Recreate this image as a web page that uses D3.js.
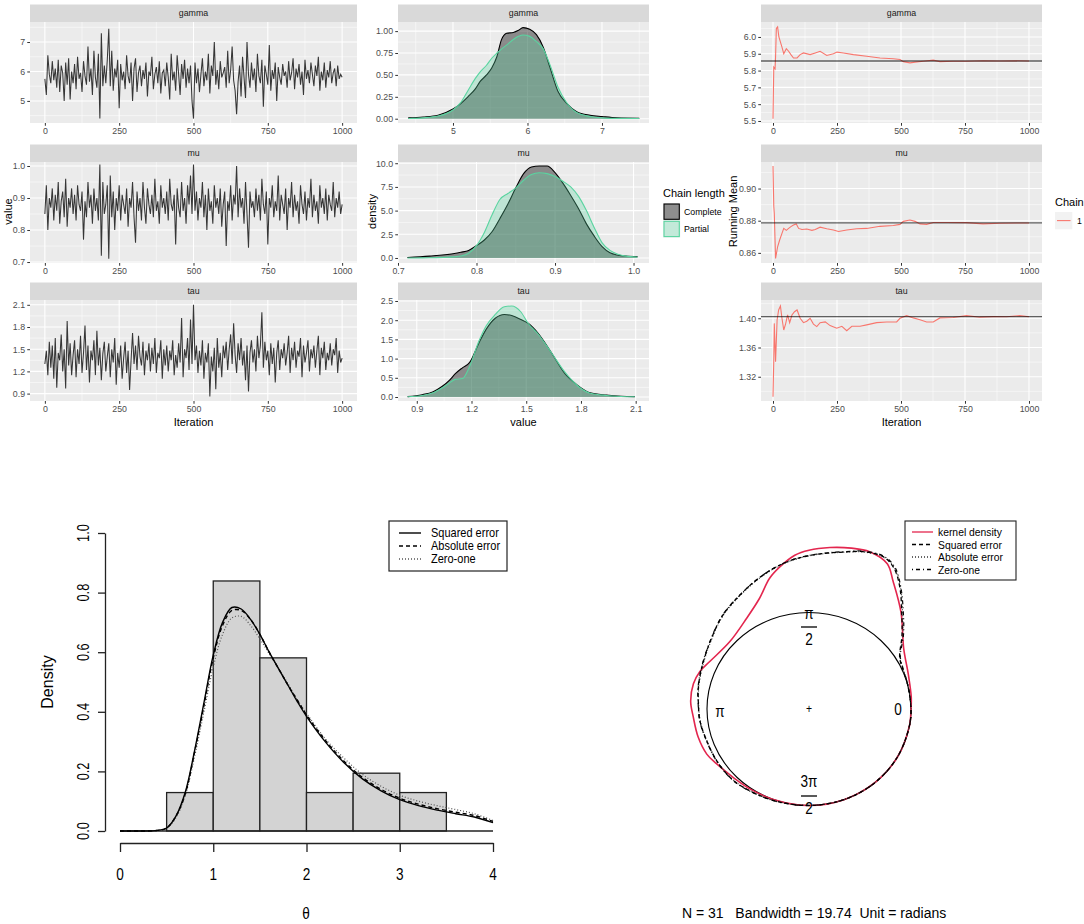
<!DOCTYPE html>
<html><head><meta charset="utf-8">
<script src="https://cdn.jsdelivr.net/npm/d3@7"></script>
<style>
body{margin:0;background:#fff}
text{font-family:"Liberation Sans",Arial,sans-serif}
</style>
</head><body>
<svg id="c" width="1084" height="924"></svg>
<script>
// ---------------- DATA ----------------
const params = ["gamma","mu","tau"];

// MCMC traces (every 5th iteration)
const traceGamma = [5.75,5.2,6.55,5.9,5.6,6.35,5.7,6.1,5.45,6.4,5.3,6.2,5.95,5.0,6.3,5.55,6.45,5.05,6.0,5.6,6.25,
5.4,6.5,5.75,5.95,5.3,6.35,5.85,5.55,6.85,5.65,6.1,5.2,6.7,5.8,5.45,6.6,4.4,7.3,5.5,6.2,
5.6,6.4,7.45,5.5,6.7,5.35,6.1,5.8,6.4,4.75,6.25,5.7,6.0,5.4,6.55,5.85,5.6,6.3,5.0,6.1,
6.45,5.3,5.95,6.2,5.5,6.05,5.75,6.3,5.15,6.0,5.85,6.5,5.4,5.9,6.15,5.6,6.35,5.25,5.95,6.05,
5.5,6.3,5.8,5.05,6.6,5.7,6.0,5.35,6.55,5.9,5.2,6.25,5.75,6.4,5.45,6.1,5.6,6.2,5.0,4.4,
6.3,5.6,6.1,5.3,5.9,6.45,5.5,6.0,5.7,6.6,5.25,6.2,5.85,7.0,5.55,6.05,5.4,6.35,5.8,5.95,
6.15,5.45,6.7,5.6,6.05,6.85,5.7,5.35,4.55,5.65,6.2,5.15,6.5,5.8,5.1,7.0,5.9,5.45,6.3,5.7,
6.1,5.3,6.6,5.85,5.6,6.4,4.8,6.2,5.9,5.55,6.9,5.35,6.05,5.75,6.3,5.0,6.15,5.8,5.55,6.25,
5.85,6.0,5.45,6.35,5.7,5.95,6.45,5.4,6.1,5.8,6.25,5.55,6.0,5.2,6.4,5.75,6.05,5.6,6.3,5.9,
5.5,6.2,5.85,6.5,5.35,6.0,5.7,6.3,5.45,6.05,5.8,6.35,5.6,5.95,6.1,5.5,6.2,5.75,5.9,5.8];
const traceMu = [0.85,0.94,0.80,0.90,0.87,0.93,0.83,0.91,0.86,0.95,0.82,0.89,0.92,0.84,0.96,0.81,0.90,0.87,0.93,0.85,0.91,
0.83,0.94,0.88,0.86,0.92,0.77,0.89,0.84,0.95,0.87,0.91,0.82,0.93,0.86,0.90,0.83,1.005,0.72,0.95,0.85,
0.88,0.94,0.71,0.97,0.84,0.92,0.80,0.90,0.86,0.94,0.83,0.91,0.88,0.85,0.93,0.81,0.90,0.87,0.95,0.84,
0.76,0.92,0.86,0.90,0.83,0.95,0.87,0.82,0.93,0.88,0.85,0.91,0.84,0.96,0.86,0.89,0.82,0.94,0.87,0.90,
0.85,0.92,0.83,0.96,0.88,0.86,0.91,0.755,0.93,0.87,0.84,0.95,0.86,0.90,0.82,0.94,0.88,0.97,0.85,1.005,
0.86,0.92,0.83,0.90,0.87,0.95,0.84,0.91,0.80,0.93,0.86,0.89,0.82,0.94,0.87,0.90,0.85,0.93,0.81,0.88,
0.92,0.75,0.89,0.86,0.94,0.83,0.91,0.88,1.00,0.84,0.93,0.87,0.90,0.82,0.95,0.85,0.745,0.92,0.87,0.89,
0.84,0.93,0.86,0.91,0.83,0.96,0.88,0.85,0.92,0.755,0.90,0.87,0.94,0.84,0.89,0.86,0.97,0.83,0.91,0.88,
0.85,0.93,0.80,0.90,0.87,0.95,0.84,0.91,0.86,0.89,0.82,0.94,0.88,0.85,0.92,0.83,0.90,0.87,0.96,0.84,
0.91,0.86,0.89,0.82,0.94,0.87,0.90,0.85,0.93,0.83,0.91,0.88,0.86,0.95,0.84,0.90,0.87,0.92,0.85,0.88];
const traceTau = [1.30,1.48,1.15,1.60,1.25,1.55,1.10,1.65,0.98,1.45,1.35,1.70,1.20,1.50,0.97,1.88,1.28,1.58,1.15,1.42,1.62,
1.12,1.50,1.30,1.68,1.18,1.45,1.82,1.22,1.55,1.05,1.48,1.35,1.62,1.15,1.75,1.28,1.52,1.08,1.44,1.60,
1.20,1.40,1.58,1.12,1.50,1.32,1.65,1.02,1.45,1.25,1.55,1.10,1.38,1.60,1.18,1.48,0.95,1.35,1.72,1.30,
1.55,1.22,1.68,1.40,1.28,1.60,1.15,1.48,1.35,1.58,1.20,1.52,1.30,1.65,1.18,1.45,1.38,1.62,1.10,1.50,
1.28,1.55,1.20,1.48,1.35,1.62,1.15,1.42,1.25,1.58,1.32,1.92,1.12,1.50,1.38,1.65,1.22,1.90,1.30,2.10,
1.35,1.55,1.18,1.48,1.28,1.62,1.10,1.45,1.32,1.58,0.86,1.40,1.20,1.52,0.96,1.65,1.25,1.45,1.12,1.55,
1.38,1.60,1.22,1.50,1.70,1.30,1.85,1.42,1.18,1.58,1.35,1.65,1.28,1.48,1.08,1.55,0.93,1.45,1.62,1.32,
1.50,1.20,1.68,1.38,1.55,2.00,1.25,1.60,1.35,1.48,1.15,1.58,1.30,1.52,1.05,1.45,1.62,1.22,1.50,1.38,
1.58,1.28,1.45,1.68,1.18,1.52,1.35,1.60,1.25,1.48,1.40,1.65,1.12,1.55,1.32,1.45,1.62,1.20,1.50,1.38,
1.55,1.25,1.48,1.68,1.15,1.52,1.38,1.60,1.22,1.45,1.35,1.58,1.28,1.50,1.42,1.65,1.18,1.48,1.32,1.38];

// Densities (Complete vs Partial chain)
const gammaX = [4.4,4.6,4.8,5.0,5.1,5.2,5.3,5.36,5.45,5.52,5.59,5.65,5.72,5.81,5.88,5.94,6.03,6.12,6.21,6.30,6.41,6.52,6.66,6.84,7.0,7.2,7.5];
const gammaComplete = [0.01,0.02,0.04,0.11,0.17,0.25,0.34,0.42,0.50,0.58,0.71,0.90,0.975,0.985,1.01,1.04,1.02,0.96,0.82,0.59,0.31,0.18,0.08,0.04,0.025,0.01,0.005];
const gammaPartial  = [0.003,0.01,0.03,0.10,0.18,0.32,0.46,0.53,0.61,0.69,0.75,0.795,0.84,0.905,0.94,0.955,0.94,0.88,0.80,0.62,0.36,0.19,0.07,0.025,0.01,0.004,0.002];
const muX = [0.712,0.74,0.77,0.78,0.79,0.80,0.81,0.82,0.83,0.84,0.85,0.86,0.87,0.88,0.89,0.90,0.91,0.92,0.93,0.94,0.95,0.96,0.97,0.98,0.99,1.005];
const muComplete = [0.05,0.2,0.45,0.6,0.8,1.3,1.9,2.8,4.2,5.7,7.4,8.9,9.6,9.7,9.7,9.0,7.9,6.6,5.2,3.6,2.3,1.2,0.55,0.3,0.2,0.15];
const muPartial  = [0.0,0.02,0.12,0.2,0.5,1.3,2.7,4.6,6.2,6.8,7.4,8.2,8.8,9.0,8.9,8.6,8.1,7.5,6.5,5.0,3.2,1.6,0.8,0.4,0.2,0.1];
const tauX = [0.85,0.93,0.99,1.04,1.08,1.11,1.15,1.19,1.24,1.28,1.33,1.38,1.42,1.47,1.51,1.565,1.64,1.71,1.78,1.85,1.94,2.02,2.095];
const tauComplete = [0.01,0.06,0.14,0.28,0.44,0.60,0.76,0.90,1.40,1.76,2.05,2.15,2.12,2.02,1.92,1.66,1.14,0.62,0.31,0.11,0.05,0.02,0.01];
const tauPartial  = [0.005,0.04,0.11,0.24,0.37,0.46,0.48,0.80,1.45,1.85,2.15,2.35,2.37,2.22,1.92,1.64,1.14,0.66,0.30,0.10,0.04,0.015,0.005];

// Running means (iteration, value)
const rmGammaIter = [0,3,8,10,13,18,23,35,42,52,61,70,80,94,106,119,145,165,184,210,236,250,275,314,366,418,470,496,509,535,555,587,626,652,704,756,821,886,951,1000];
const rmGamma = [5.513,5.82,5.81,5.88,6.05,6.06,6.0,5.94,5.90,5.93,5.915,5.895,5.875,5.875,5.895,5.905,5.895,5.905,5.915,5.89,5.90,5.91,5.905,5.895,5.885,5.875,5.87,5.866,5.853,5.846,5.85,5.855,5.862,5.853,5.855,5.855,5.858,5.857,5.858,5.857];
const rmMuIter = [0,3,5,10,18,26,35,42,52,61,70,80,91,100,113,132,152,165,184,210,236,256,288,327,366,418,470,496,509,535,555,574,600,626,678,756,821,886,951,1000];
const rmMu = [0.914,0.889,0.8846,0.8565,0.8638,0.868,0.8721,0.8752,0.874,0.8752,0.8763,0.8773,0.878,0.8752,0.8745,0.8748,0.874,0.8745,0.876,0.875,0.8742,0.8733,0.8742,0.875,0.8752,0.8765,0.877,0.8777,0.8796,0.8804,0.8796,0.878,0.8777,0.8789,0.8789,0.8788,0.878,0.8784,0.8786,0.8786];
const rmTauIter = [0,3,5,10,16,22,29,35,42,49,57,65,74,84,94,106,119,132,145,158,171,184,204,223,249,269,288,308,340,366,405,444,483,496,522,548,574,600,626,652,704,756,808,860,912,964,1000];
const rmTau = [1.2926,1.343,1.393,1.3405,1.3977,1.4114,1.4168,1.40,1.384,1.392,1.4045,1.394,1.4045,1.409,1.4114,1.40,1.394,1.396,1.40,1.392,1.3886,1.394,1.395,1.39,1.3863,1.389,1.383,1.389,1.389,1.391,1.394,1.395,1.395,1.40,1.4036,1.4005,1.398,1.395,1.395,1.4005,1.401,1.4036,1.4015,1.4023,1.402,1.4036,1.402];
const rmFinal = [5.857, 0.8786, 1.4022];

// Histogram (posterior of theta)
const binEdges = [0.5,1.0,1.5,2.0,2.5,3.0,3.5];
const binDensity = [0.129,0.839,0.581,0.129,0.194,0.129];
const thetaGrid = [0,0.2,0.4,0.5,0.6,0.7,0.8,0.9,1.0,1.1,1.2,1.3,1.4,1.5,1.6,1.7,1.8,1.9,2.0,2.2,2.4,2.6,2.8,3.0,3.2,3.4,3.6,3.8,4.0];
const sqErr   = [0,0,0.002,0.01,0.05,0.13,0.27,0.43,0.59,0.70,0.75,0.745,0.71,0.66,0.60,0.545,0.49,0.435,0.385,0.30,0.23,0.175,0.135,0.105,0.085,0.07,0.058,0.047,0.028];
const absErr  = [0,0,0.002,0.01,0.05,0.125,0.265,0.42,0.58,0.69,0.74,0.74,0.71,0.66,0.60,0.545,0.49,0.44,0.39,0.305,0.235,0.18,0.14,0.11,0.09,0.075,0.063,0.052,0.032];
const zeroOne = [0,0,0.002,0.01,0.045,0.12,0.25,0.40,0.55,0.66,0.715,0.72,0.69,0.645,0.595,0.545,0.495,0.44,0.395,0.31,0.245,0.19,0.15,0.12,0.10,0.085,0.072,0.058,0.035];
const histLegend = ["Squared error","Absolute error","Zero-one"];

// Circular densities (angle in degrees, radius relative to unit circle)
const redAng = [0,7,20,34,48,58,63,70,76,83,90,95,101,106,113,123,138,153,160,167,176,184,195,205,212,224,235,250,270,290,310,330,350];
const redR   = [1.0,1.01,1.037,1.12,1.348,1.557,1.69,1.735,1.718,1.686,1.646,1.6,1.5,1.407,1.244,1.122,1.044,1.089,1.138,1.163,1.163,1.138,1.125,1.106,1.07,1.026,1.01,1.0,1.0,1.0,1.0,1.0,1.0];
const blkAng = [0,15,25,31,40,48,54.5,60,65,72,78,85,92,99.5,108,118,131,144,158,168.5,176,186.6,198,210.6,222.4,231.6,250,270,290,310,330,350];
const sqR    = [1.0,1.0,1.01,1.037,1.19,1.358,1.536,1.675,1.737,1.714,1.663,1.617,1.578,1.529,1.459,1.376,1.288,1.196,1.135,1.107,1.088,1.076,1.056,1.052,1.05,1.036,1.01,1.0,1.0,1.0,1.0,1.0];
const absR   = [1.0,1.0,1.012,1.04,1.2,1.37,1.545,1.68,1.737,1.71,1.66,1.615,1.575,1.525,1.455,1.37,1.283,1.19,1.13,1.103,1.085,1.073,1.054,1.05,1.048,1.034,1.008,1.0,1.0,1.0,1.0,1.0];
const zoR    = [1.0,1.0,1.015,1.045,1.21,1.38,1.55,1.69,1.745,1.72,1.667,1.62,1.58,1.53,1.46,1.375,1.29,1.198,1.138,1.11,1.09,1.078,1.058,1.054,1.052,1.038,1.012,1.0,1.0,1.0,1.0,1.0];
const circLegend = ["kernel density","Squared error","Absolute error","Zero-one"];
const circNote = "N = 31   Bandwidth = 19.74  Unit = radians";

// ---------------- DRAW ----------------
const svg = d3.select("#c");
svg.append("rect").attr("width",1084).attr("height",924).attr("fill","#fff");

// condensed text helper (R device text is horizontally narrow)
function ntext(g,x,y,txt,fs,anchor,rot,sx){
  return g.append("text").attr("transform",`translate(${x},${y})${rot?` rotate(${rot})`:""} scale(${sx||0.8},1)`)
    .attr("text-anchor",anchor||"start").attr("dy","0.35em").attr("font-size",fs).text(txt);
}

const rowsY = [[22,123],[162,263],[300,401]];
const colsX = {trace:[30,357], dens:[398,649], rm:[761,1042]};
const STRIP = 17.5;
let clipId = 0;

function minorOf(t){
  const s = t[1]-t[0]; const m=[];
  for(let i=-1;i<t.length;i++) m.push(t[0]+s*(i+0.5));
  return m;
}
function panel(cfg){
  const [x0,x1] = cfg.xs, [y0,y1] = cfg.ys;
  const x = d3.scaleLinear().domain(cfg.xd).range([x0,x1]);
  const y = d3.scaleLinear().domain(cfg.yd).range([y1,y0]);
  const g = svg.append("g");
  g.append("rect").attr("x",x0).attr("y",y0-STRIP).attr("width",x1-x0).attr("height",STRIP).attr("fill","#D9D9D9");
  g.append("text").attr("x",(x0+x1)/2).attr("y",y0-STRIP/2).attr("dy","0.35em").attr("text-anchor","middle")
    .attr("font-size",8.8).attr("fill","#1A1A1A").text(cfg.strip);
  g.append("rect").attr("x",x0).attr("y",y0).attr("width",x1-x0).attr("height",y1-y0).attr("fill","#EBEBEB");
  const inX = v => v>=cfg.xd[0] && v<=cfg.xd[1], inY = v => v>=cfg.yd[0] && v<=cfg.yd[1];
  minorOf(cfg.yt).filter(inY).forEach(v=>g.append("line").attr("x1",x0).attr("x2",x1).attr("y1",y(v)).attr("y2",y(v)).attr("stroke","#fff").attr("stroke-width",0.5));
  minorOf(cfg.xt).filter(inX).forEach(v=>g.append("line").attr("y1",y0).attr("y2",y1).attr("x1",x(v)).attr("x2",x(v)).attr("stroke","#fff").attr("stroke-width",0.5));
  cfg.yt.forEach(v=>g.append("line").attr("x1",x0).attr("x2",x1).attr("y1",y(v)).attr("y2",y(v)).attr("stroke","#fff").attr("stroke-width",1.07));
  cfg.xt.forEach(v=>g.append("line").attr("y1",y0).attr("y2",y1).attr("x1",x(v)).attr("x2",x(v)).attr("stroke","#fff").attr("stroke-width",1.07));
  const ya = g.append("g").attr("transform",`translate(${x0},0)`)
    .call(d3.axisLeft(y).tickValues(cfg.yt).tickFormat(cfg.yf).tickSize(2.75).tickPadding(2.2));
  const xa = g.append("g").attr("transform",`translate(0,${y1})`)
    .call(d3.axisBottom(x).tickValues(cfg.xt).tickFormat(cfg.xf).tickSize(2.75).tickPadding(2.2));
  [ya,xa].forEach(a=>{
    a.select(".domain").remove();
    a.selectAll("line").attr("stroke","#333").attr("stroke-width",1);
    a.selectAll("text").attr("fill","#4D4D4D").attr("font-size",8.8).attr("font-family","Liberation Sans, Arial, sans-serif");
  });
  const id = "cp"+(clipId++);
  svg.append("clipPath").attr("id",id).append("rect").attr("x",x0).attr("y",y0).attr("width",x1-x0).attr("height",y1-y0);
  const inner = g.append("g").attr("clip-path",`url(#${id})`);
  return {x,y,g:inner};
}

const itTicks = [0,250,500,750,1000];
const fInt = d3.format("d");

// ---- Column 1: traces
const traces = [traceGamma, traceMu, traceTau];
const traceCfg = [
  {yd:[4.25,7.68], yt:[5,6,7], yf:d3.format("d")},
  {yd:[0.697,1.0125], yt:[0.7,0.8,0.9,1.0], yf:d3.format(".1f")},
  {yd:[0.80,2.165], yt:[0.9,1.2,1.5,1.8,2.1], yf:d3.format(".1f")}
];
traces.forEach((tr,k)=>{
  const c = traceCfg[k];
  const p = panel({xs:colsX.trace, ys:rowsY[k], xd:[-50,1050], yd:c.yd, xt:itTicks, yt:c.yt, xf:fInt, yf:c.yf, strip:params[k]});
  const n = tr.length;
  const line = d3.line().x((d,i)=>p.x(i*1000/(n-1))).y(d=>p.y(d));
  p.g.append("path").datum(tr).attr("d",line).attr("fill","none").attr("stroke","#363636").attr("stroke-width",1.05);
});

// ---- Column 2: densities
const densSets = [
  {x:gammaX, c:gammaComplete, p:gammaPartial, xd:[4.262,7.631], yd:[-0.049,1.104], xt:[5,6,7], yt:[0,0.25,0.5,0.75,1.0], xf:d3.format("d"), yf:d3.format(".2f")},
  {x:muX, c:muComplete, p:muPartial, xd:[0.7,1.0197], yd:[-0.53,10.13], xt:[0.7,0.8,0.9,1.0], yt:[0,2.5,5,7.5,10], xf:d3.format(".1f"), yf:d3.format(".1f")},
  {x:tauX, c:tauComplete, p:tauPartial, xd:[0.797,2.173], yd:[-0.104,2.526], xt:[0.9,1.2,1.5,1.8,2.1], yt:[0,0.5,1,1.5,2,2.5], xf:d3.format(".1f"), yf:d3.format(".1f")}
];
const TEAL = "rgb(90,212,160)";
densSets.forEach((s,k)=>{
  const p = panel({xs:colsX.dens, ys:rowsY[k], xd:s.xd, yd:s.yd, xt:s.xt, yt:s.yt, xf:s.xf, yf:s.yf, strip:params[k]});
  const mk = vals => s.x.map((v,i)=>[v,vals[i]]);
  const area = d3.area().x(d=>p.x(d[0])).y0(p.y(0)).y1(d=>p.y(d[1])).curve(d3.curveMonotoneX);
  const line = d3.line().x(d=>p.x(d[0])).y(d=>p.y(d[1])).curve(d3.curveMonotoneX);
  p.g.append("path").datum(mk(s.c)).attr("d",area).attr("fill","#000").attr("fill-opacity",0.41);
  p.g.append("path").datum(mk(s.c)).attr("d",line).attr("fill","none").attr("stroke","#000").attr("stroke-width",1.1);
  p.g.append("path").datum(mk(s.p)).attr("d",area).attr("fill",TEAL).attr("fill-opacity",0.31);
  p.g.append("path").datum(mk(s.p)).attr("d",line).attr("fill","none").attr("stroke",TEAL).attr("stroke-width",1.1);
});

// ---- Column 3: running means
const rmSets = [
  {it:rmGammaIter, v:rmGamma, yd:[5.488,6.089], yt:[5.5,5.6,5.7,5.8,5.9,6.0], yf:d3.format(".1f")},
  {it:rmMuIter, v:rmMu, yd:[0.8537,0.9165], yt:[0.86,0.88,0.90], yf:d3.format(".2f")},
  {it:rmTauIter, v:rmTau, yd:[1.2868,1.425], yt:[1.32,1.36,1.40], yf:d3.format(".2f")}
];
rmSets.forEach((s,k)=>{
  const p = panel({xs:colsX.rm, ys:rowsY[k], xd:[-46.9,1050.8], yd:s.yd, xt:itTicks, yt:s.yt, xf:fInt, yf:s.yf, strip:params[k]});
  const line = d3.line().x((d,i)=>p.x(s.it[i])).y(d=>p.y(d));
  p.g.append("path").datum(s.v).attr("d",line).attr("fill","none").attr("stroke","#F8766D").attr("stroke-width",1.1);
  p.g.append("line").attr("x1",colsX.rm[0]).attr("x2",colsX.rm[1]).attr("y1",p.y(rmFinal[k])).attr("y2",p.y(rmFinal[k]))
    .attr("stroke","#000").attr("stroke-opacity",0.6).attr("stroke-width",1.3);
});

// axis titles (top)
function title(x,y,txt,rot){
  const t = svg.append("text").attr("x",x).attr("y",y).attr("text-anchor","middle").attr("dy","0.35em")
    .attr("font-size",11).attr("fill","#000").text(txt);
  if(rot) t.attr("transform",`rotate(-90,${x},${y})`);
}
title(8,211.5,"value",true);
title(193.5,422,"Iteration");
title(372,211.5,"density",true);
title(523.5,422,"value");
title(733,211.5,"Running Mean",true);
title(901.5,422,"Iteration");

// legends (top)
const lg = svg.append("g");
lg.append("text").attr("x",663).attr("y",193).attr("dy","0.35em").attr("font-size",11).text("Chain length");
const keyCols = [["#000",0.41,"#000"],[TEAL,0.31,TEAL]];
["Complete","Partial"].forEach((lab,i)=>{
  const yk = 203+i*17.3;
  lg.append("rect").attr("x",663).attr("y",yk).attr("width",17.3).attr("height",17.3).attr("fill","#F2F2F2");
  lg.append("rect").attr("x",664).attr("y",yk+1).attr("width",15.3).attr("height",15.3)
    .attr("fill",keyCols[i][0]).attr("fill-opacity",keyCols[i][1]).attr("stroke",keyCols[i][2]).attr("stroke-width",1.1);
  lg.append("text").attr("x",684).attr("y",yk+8.6).attr("dy","0.35em").attr("font-size",8.8).text(lab);
});
lg.append("text").attr("x",1055).attr("y",202).attr("dy","0.35em").attr("font-size",11).text("Chain");
lg.append("rect").attr("x",1055).attr("y",212).attr("width",17.3).attr("height",17.3).attr("fill","#F2F2F2");
lg.append("line").attr("x1",1057).attr("x2",1070.5).attr("y1",220.6).attr("y2",220.6).attr("stroke","#F8766D").attr("stroke-width",1.1);
lg.append("text").attr("x",1077).attr("y",220.6).attr("dy","0.35em").attr("font-size",8.8).text("1");

// ---------------- Bottom-left histogram ----------------
const hx = d3.scaleLinear().domain([0,4]).range([120,493]);
const hy = d3.scaleLinear().domain([0,1]).range([831,533]);
const hg = svg.append("g");
binDensity.forEach((d,i)=>{
  hg.append("rect").attr("x",hx(binEdges[i])).attr("y",hy(d)).attr("width",hx(binEdges[i+1])-hx(binEdges[i]))
    .attr("height",hy(0)-hy(d)).attr("fill","#D3D3D3").attr("stroke","#222").attr("stroke-width",1.3);
});
hg.append("line").attr("x1",hx(0)).attr("x2",hx(4)).attr("y1",hy(0)).attr("y2",hy(0)).attr("stroke","#222").attr("stroke-width",1.3);
const hline = vals => d3.line().x((d,i)=>hx(thetaGrid[i])).y(d=>hy(d)).curve(d3.curveCatmullRom)(vals);
hg.append("path").attr("d",hline(zeroOne)).attr("fill","none").attr("stroke","#555").attr("stroke-width",1.2).attr("stroke-dasharray","1,2");
hg.append("path").attr("d",hline(absErr)).attr("fill","none").attr("stroke","#000").attr("stroke-width",1.4).attr("stroke-dasharray","4,3");
hg.append("path").attr("d",hline(sqErr)).attr("fill","none").attr("stroke","#000").attr("stroke-width",1.4);
// axes
const hya = hg.append("g").attr("transform","translate(105,0)")
  .call(d3.axisLeft(hy).tickValues([0,0.2,0.4,0.6,0.8,1.0]).tickSize(7).tickSizeOuter(0).tickFormat(""));
const hxa = hg.append("g").attr("transform","translate(0,843)")
  .call(d3.axisBottom(hx).tickValues([0,1,2,3,4]).tickSize(9).tickSizeOuter(0).tickFormat(""));
[hya,hxa].forEach(a=>{a.selectAll("path,line").attr("stroke","#222").attr("stroke-width",1.3);});
[0,0.2,0.4,0.6,0.8,1.0].forEach(v=>{ ntext(hg,83,hy(v),d3.format(".1f")(v),16,"middle",-90); });
[0,1,2,3,4].forEach(v=>{ ntext(hg,hx(v),874,String(v),17,"middle"); });
hg.append("text").attr("x",47).attr("y",682).attr("text-anchor","middle").attr("dy","0.35em").attr("font-size",16)
  .attr("transform","rotate(-90,47,682)").text("Density");
ntext(hg,306,913,"θ",17,"middle");
// legend
hg.append("rect").attr("x",389).attr("y",521).attr("width",118).attr("height",50).attr("fill","#fff").attr("stroke","#222").attr("stroke-width",1.2);
const hdash = [null,"4,3","1,2"];
histLegend.forEach((lab,i)=>{
  const yy = 533+i*13;
  const l = hg.append("line").attr("x1",399).attr("x2",421).attr("y1",yy).attr("y2",yy).attr("stroke",i==2?"#555":"#000").attr("stroke-width",1.4);
  if(hdash[i]) l.attr("stroke-dasharray",hdash[i]);
  ntext(hg,431,yy,lab,12.5,"start",0,0.88);
});

// ---------------- Bottom-right circular plot ----------------
const cx=809, cy=709, rx=102, ry=96.5;
const xC = d3.scaleLinear().domain([-1,1]).range([cx-rx,cx+rx]);
const yC = d3.scaleLinear().domain([-1,1]).range([cy+ry,cy-ry]);
const cg = svg.append("g");
cg.append("ellipse").attr("cx",xC(0)).attr("cy",yC(0)).attr("rx",xC(1)-xC(0)).attr("ry",yC(0)-yC(1))
  .attr("fill","none").attr("stroke","#000").attr("stroke-width",1.1);
const rad = Math.PI/180;
const cline = d3.line().x(d=>xC(d[1]*Math.cos(d[0]*rad))).y(d=>yC(d[1]*Math.sin(d[0]*rad))).curve(d3.curveCatmullRomClosed);
const pairs = (a,r)=>a.map((v,i)=>[v,r[i]]);
cg.append("path").attr("d",cline(pairs(redAng,redR))).attr("fill","none").attr("stroke","#E3264E").attr("stroke-width",1.6);
cg.append("path").attr("d",cline(pairs(blkAng,zoR))).attr("fill","none").attr("stroke","#000").attr("stroke-width",1.2).attr("stroke-dasharray","1,3,4,3");
cg.append("path").attr("d",cline(pairs(blkAng,absR))).attr("fill","none").attr("stroke","#333").attr("stroke-width",1.1).attr("stroke-dasharray","1,2");
cg.append("path").attr("d",cline(pairs(blkAng,sqR))).attr("fill","none").attr("stroke","#000").attr("stroke-width",1.3).attr("stroke-dasharray","4,3");
// labels
ntext(cg,cx,cy-1,"+",13,"middle");
ntext(cg,898,709,"0",17,"middle");
ntext(cg,720,711,"π",17,"middle");
ntext(cg,809,613,"π",17,"middle");
cg.append("line").attr("x1",801).attr("x2",817).attr("y1",627).attr("y2",627).attr("stroke","#000").attr("stroke-width",1.3);
ntext(cg,809,639,"2",17,"middle");
ntext(cg,809,781,"3π",17,"middle");
cg.append("line").attr("x1",801).attr("x2",817).attr("y1",796).attr("y2",796).attr("stroke","#000").attr("stroke-width",1.3);
ntext(cg,809,808.5,"2",17,"middle");
// legend
cg.append("rect").attr("x",905).attr("y",521).attr("width",111).attr("height",59).attr("fill","#fff").attr("stroke","#222").attr("stroke-width",1.1);
const cstyle = [["#E3264E",null],["#000","4,3"],["#333","1,2"],["#000","1,3,4,3"]];
circLegend.forEach((lab,i)=>{
  const yy = 532+i*12.5;
  const l = cg.append("line").attr("x1",912).attr("x2",933).attr("y1",yy).attr("y2",yy).attr("stroke",cstyle[i][0]).attr("stroke-width",1.3);
  if(cstyle[i][1]) l.attr("stroke-dasharray",cstyle[i][1]);
  ntext(cg,938,yy,lab,11.5,"start",0,0.9);
});
cg.append("text").attr("x",682).attr("y",913).attr("dy","0.35em").attr("font-size",14)
  .style("white-space","pre").text(circNote);
</script>
</body></html>
